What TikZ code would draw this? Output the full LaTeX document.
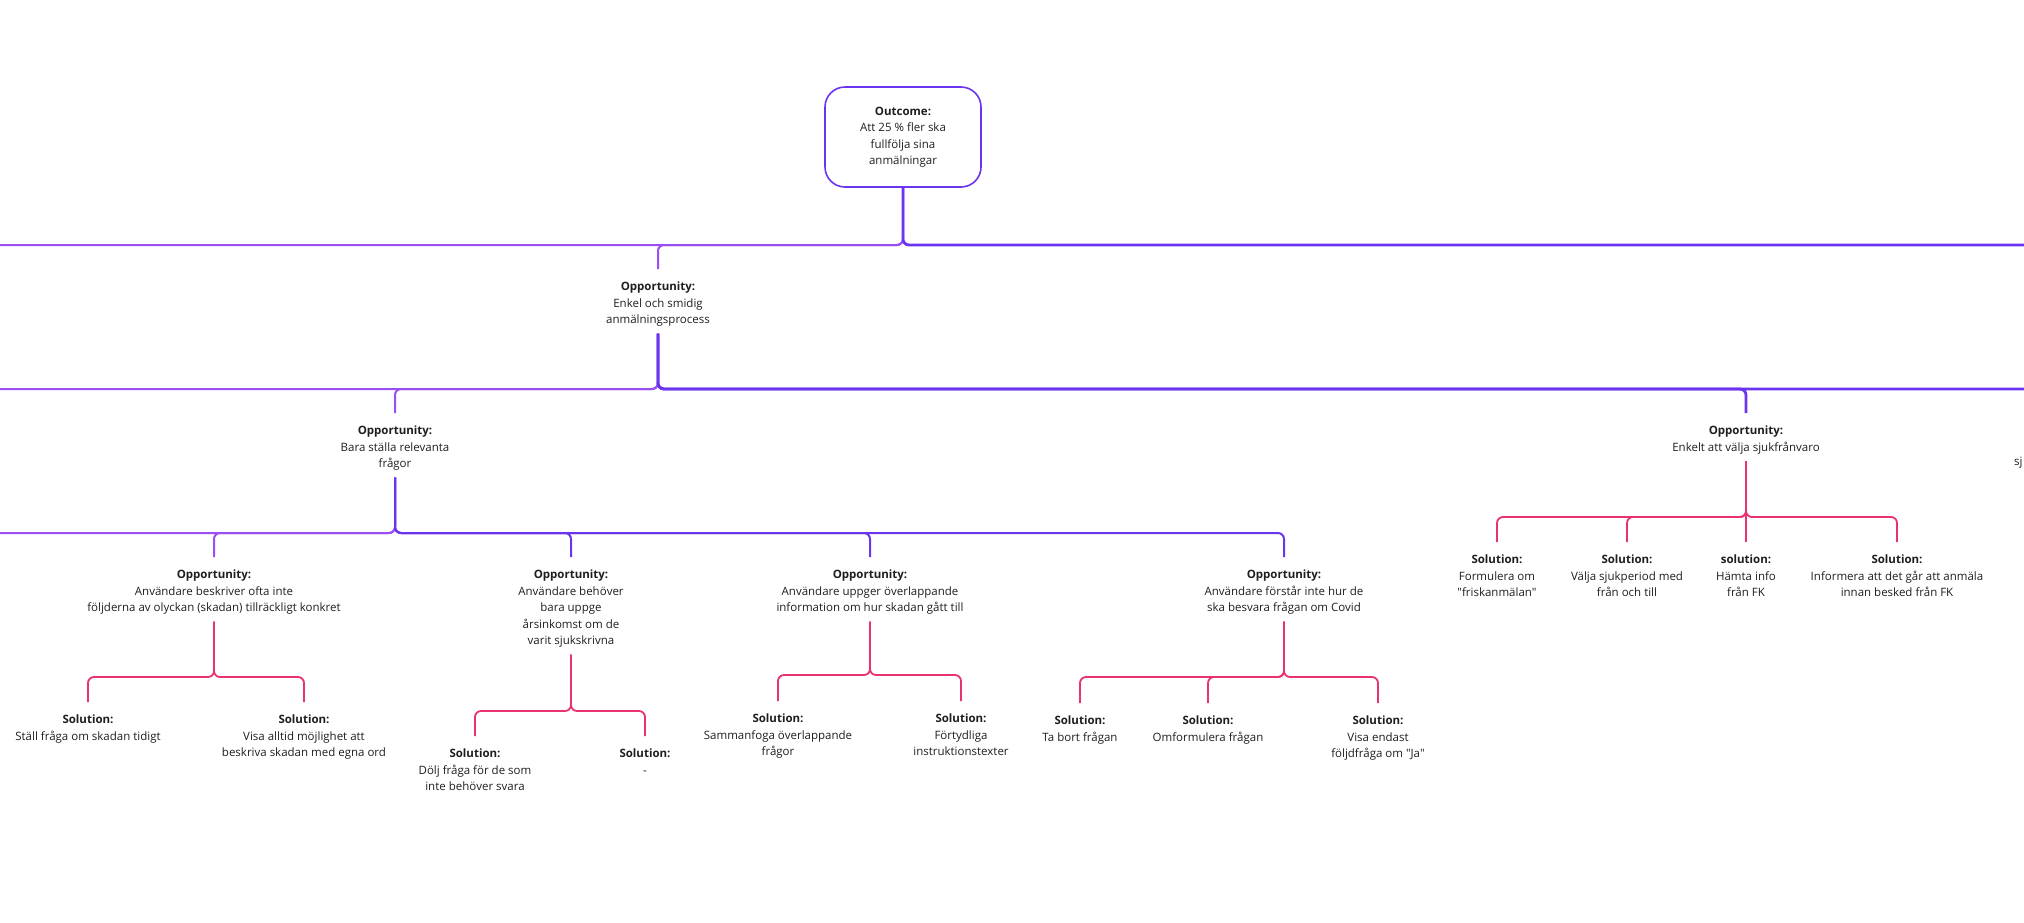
\documentclass[tikz,border=0pt]{standalone}
\usepackage{fontspec}
\setmainfont{Open Sans}
\usepackage{tikz}
\usetikzlibrary{positioning}
\definecolor{PurpleDark}{HTML}{6B35F0}
\definecolor{PurpleLight}{HTML}{9A4EF6}
\definecolor{SolPink}{HTML}{E8336F}
\definecolor{TextGray}{HTML}{1E1E1E}
\newcommand{\Rubrik}[1]{\rule{0pt}{14.5pt}\textbf{#1}}

\begin{document}
\begin{tikzpicture}[x=1pt, y=-1pt]
  \tikzset{OutcomeStyle/.style = {shape          = rectangle,
                                 draw=PurpleDark, rounded corners=20pt,
                                 line width     = 1.6pt,
                                 text           = TextGray,
                                 align          = center,
                                 minimum width  = 156pt,
                                 minimum height = 100pt,
                                 font=\fontsize{11.5}{16.5}\selectfont}}
  \tikzset{TextStyle/.style = {align          = center,
                                 text           = TextGray,
                                 inner xsep     = 2pt,
                                 inner ysep     = 7pt,
                                 anchor         = north,
                                 font=\fontsize{11.5}{16.5}\selectfont}}
  \useasboundingbox (0,0) rectangle (2024,922);
  \begin{scope}[MainLink/.style={draw=PurpleDark, line width=2.8pt, rounded corners=6pt},
                PurpleLink/.style={draw=PurpleDark, line width=2pt, rounded corners=6pt},
                LeftLink/.style={draw=PurpleLight, line width=2pt, rounded corners=6pt},
                PinkLink/.style={draw=SolPink, line width=1.8pt, rounded corners=6pt}]
	%%% OUTCOME %%%
	\node[OutcomeStyle](outcome) at (903,137){\textbf{Outcome:}\\Att 25 \% fler ska\\fullfölja sina\\anmälningar};
	\coordinate (j0) at (903,245);
	\coordinate (offL0) at (0,245);
	\coordinate (offR0) at (2024,245);
	%%% NIVÅ 1 %%%
	\node[TextStyle](enkel) at (658,269){\Rubrik{Opportunity:}\\Enkel och smidig\\anmälningsprocess};
	\draw[LeftLink](outcome.south) -- (j0) -- (offL0);
	\draw[LeftLink](outcome.south) -- (j0) -| (enkel.north);
	\draw[MainLink](outcome.south) -- (j0) -- (offR0);
	%
	\coordinate (j1) at (658,389);
	\coordinate (offL1) at (0,389);
	\coordinate (offR1) at (2024,389);
	%%% NIVÅ 2 %%%
	\node[TextStyle](relevanta) at (395,413){\Rubrik{Opportunity:}\\Bara ställa relevanta\\frågor};
	\node[TextStyle](sjukfr) at (1746,413){\Rubrik{Opportunity:}\\Enkelt att välja sjukfrånvaro};
	\draw[LeftLink](enkel.south) -- (j1) -- (offL1);
	\draw[LeftLink](enkel.south) -- (j1) -| (relevanta.north);
	\draw[MainLink](enkel.south) -- (j1) -| (sjukfr.north);
	\draw[MainLink](enkel.south) -- (j1) -- (offR1);
	% avskuren nod i kanten
	\node[TextStyle, anchor=west](cut) at (2012,463){sj};
	%
	\coordinate (j2) at (395,533);
	\coordinate (offL2) at (0,533);
	%%% NIVÅ 3 %%%
	\node[TextStyle](beskriver) at (214,557){\Rubrik{Opportunity:}\\Användare beskriver ofta inte\\följderna av olyckan (skadan) tillräckligt konkret};
	\node[TextStyle](inkomst) at (571,557){\Rubrik{Opportunity:}\\Användare behöver\\bara uppge\\årsinkomst om de\\varit sjukskrivna};
	\node[TextStyle](overlapp) at (870,557){\Rubrik{Opportunity:}\\Användare uppger överlappande\\information om hur skadan gått till};
	\node[TextStyle](covid) at (1284,557){\Rubrik{Opportunity:}\\Användare förstår inte hur de\\ska besvara frågan om Covid};
	\draw[LeftLink](relevanta.south) -- (j2) -- (offL2);
	\draw[LeftLink](relevanta.south) -- (j2) -| (beskriver.north);
	\draw[PurpleLink](relevanta.south) -- (j2) -| (inkomst.north);
	\draw[PurpleLink](relevanta.south) -- (j2) -| (overlapp.north);
	\draw[PurpleLink](relevanta.south) -- (j2) -| (covid.north);
	%%% SOLUTIONS %%%
	\coordinate (jb) at (214,677);
	\node[TextStyle](tidigt) at (88,702){\Rubrik{Solution:}\\Ställ fråga om skadan tidigt};
	\node[TextStyle](egnaord) at (304,702){\Rubrik{Solution:}\\Visa alltid möjlighet att\\beskriva skadan med egna ord};
	\draw[PinkLink](beskriver.south) -- (jb) -| (tidigt.north);
	\draw[PinkLink](beskriver.south) -- (jb) -| (egnaord.north);
	%
	\coordinate (ji) at (571,711);
	\node[TextStyle](dolj) at (475,736){\Rubrik{Solution:}\\Dölj fråga för de som\\inte behöver svara};
	\node[TextStyle](streck) at (645,736){\Rubrik{Solution:}\\-};
	\draw[PinkLink](inkomst.south) -- (ji) -| (dolj.north);
	\draw[PinkLink](inkomst.south) -- (ji) -| (streck.north);
	%
	\coordinate (jo) at (870,675);
	\node[TextStyle](samman) at (778,701){\Rubrik{Solution:}\\Sammanfoga överlappande\\frågor};
	\node[TextStyle](fortyd) at (961,701){\Rubrik{Solution:}\\Förtydliga\\instruktionstexter};
	\draw[PinkLink](overlapp.south) -- (jo) -| (samman.north);
	\draw[PinkLink](overlapp.south) -- (jo) -| (fortyd.north);
	%
	\coordinate (jc) at (1284,677);
	\node[TextStyle](tabort) at (1080,703){\Rubrik{Solution:}\\Ta bort frågan};
	\node[TextStyle](omform) at (1208,703){\Rubrik{Solution:}\\Omformulera frågan};
	\node[TextStyle](endast) at (1378,703){\Rubrik{Solution:}\\Visa endast\\följdfråga om \textquotedbl Ja\textquotedbl};
	\draw[PinkLink](covid.south) -- (jc) -| (tabort.north);
	\draw[PinkLink](covid.south) -- (jc) -| (omform.north);
	\draw[PinkLink](covid.south) -- (jc) -| (endast.north);
	%
	\coordinate (js) at (1746,517);
	\node[TextStyle](frisk) at (1497,542){\Rubrik{Solution:}\\Formulera om\\\textquotedbl friskanmälan\textquotedbl};
	\node[TextStyle](period) at (1627,542){\Rubrik{Solution:}\\Välja sjukperiod med\\från och till};
	\node[TextStyle](hamta) at (1746,542){\Rubrik{solution:}\\Hämta info\\från FK};
	\node[TextStyle](besked) at (1897,542){\Rubrik{Solution:}\\Informera att det går att anmäla\\innan besked från FK};
	\draw[PinkLink](sjukfr.south) -- (js) -| (frisk.north);
	\draw[PinkLink](sjukfr.south) -- (js) -| (period.north);
	\draw[PinkLink](sjukfr.south) -- (hamta.north);
	\draw[PinkLink](sjukfr.south) -- (js) -| (besked.north);
  \end{scope}
\end{tikzpicture}
\end{document}
